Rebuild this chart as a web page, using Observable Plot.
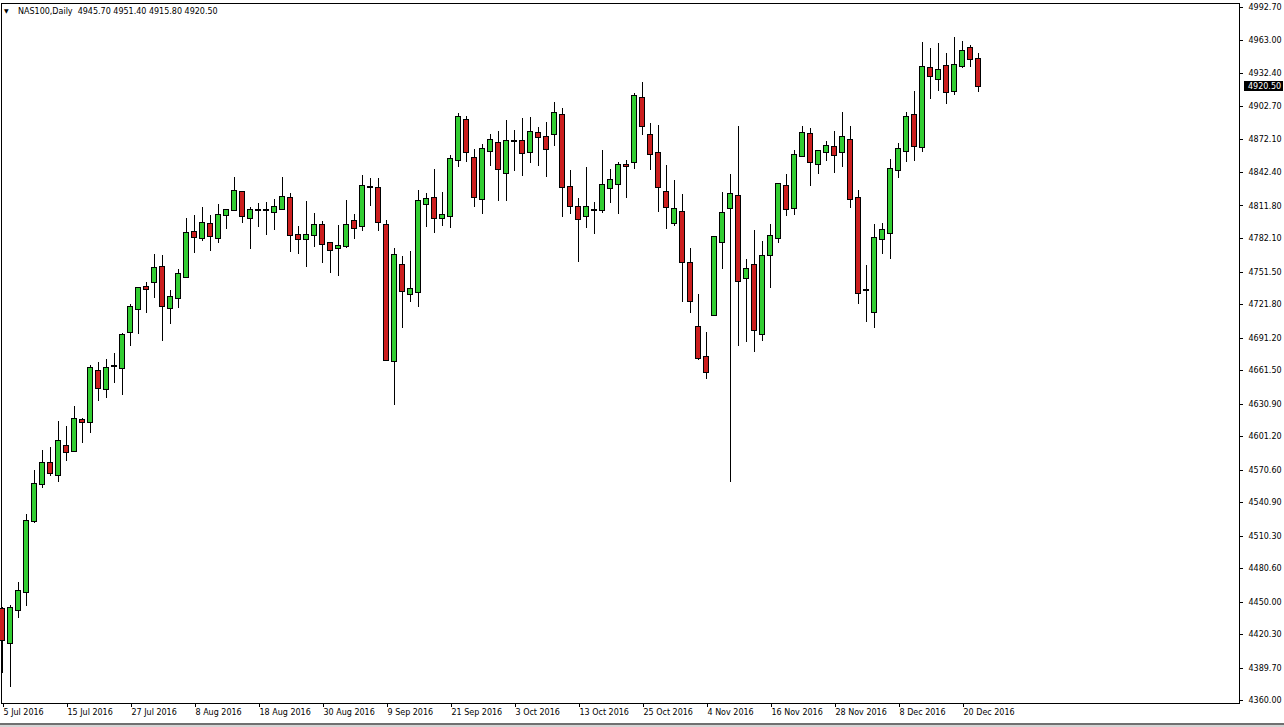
<!DOCTYPE html>
<html>
<head>
<meta charset="utf-8">
<script src="https://cdn.jsdelivr.net/npm/d3@7"></script>
<script src="https://cdn.jsdelivr.net/npm/@observablehq/plot@0.6"></script>
<style>
  html, body { margin: 0; padding: 0; background: #fff; }
  #wrap { position: relative; width: 1284px; height: 727px; overflow: hidden; }
  #hdr { position: absolute; left: 0; top: 0; font-family: "DejaVu Sans", sans-serif; font-size: 8px; color: #000; white-space: pre; }
  #hdr .tri { position: absolute; left: 4px; top: 7px; font-size: 6px; }
  #hdr .txt { position: absolute; left: 18px; top: 7px; }
  #foot { position: absolute; left: 0; top: 723px; width: 1284px; height: 2px; background: #707070; }
  #foot2 { position: absolute; left: 0; top: 725px; width: 1284px; height: 2px; background: #d4d4d4; }
</style>
</head>
<body>
<div id="wrap">
  <div id="chart"></div>
  <div id="hdr"><span class="tri">▼</span><span class="txt">NAS100,Daily  4945.70 4951.40 4915.80 4920.50</span></div>
  <div id="foot"></div><div id="foot2"></div>
</div>
<script>
// NAS100 daily candles, 5 Jul 2016 – 22 Dec 2016 (index = trading day)
const open = [
4443.2, 4412.7, 4442.5, 4458.7, 4524.1, 4557.3, 4576.5, 4565.5, 4592.0, 4588.0,
4615.7, 4613.9, 4660.7, 4644.0, 4665.0, 4663.2, 4696.6, 4717.0, 4737.4, 4741.7,
4755.6, 4717.9, 4727.1, 4746.2, 4787.6, 4781.8, 4794.6, 4782.4, 4802.8, 4807.9,
4823.8, 4800.1, 4807.4, 4807.9, 4805.6, 4808.3, 4818.4, 4784.6, 4781.5, 4784.6,
4793.7, 4777.3, 4772.7, 4775.1, 4797.4, 4792.8, 4829.0, 4827.5, 4794.0, 4670.1,
4757.5, 4730.7, 4733.1, 4812.9, 4818.4, 4800.1, 4802.5, 4853.0, 4889.8, 4854.9,
4817.4, 4861.3, 4868.6, 4841.2, 4870.7, 4870.4, 4860.3, 4877.7, 4874.0, 4876.8,
4894.4, 4828.9, 4810.1, 4802.2, 4808.1, 4807.7, 4827.5, 4831.1, 4848.3, 4851.5,
4909.6, 4876.1, 4859.4, 4823.8, 4795.5, 4805.6, 4759.0, 4700.6, 4673.2, 4711.5,
4778.2, 4809.2, 4820.5, 4745.3, 4757.5, 4694.2, 4766.3, 4781.8, 4829.6, 4809.2,
4857.2, 4876.8, 4849.4, 4860.9, 4864.9, 4860.3, 4871.6, 4818.4, 4734.5, 4714.3,
4780.9, 4786.4, 4844.2, 4861.3, 4894.1, 4864.9, 4937.0, 4927.0, 4939.1, 4916.6,
4939.1, 4955.3, 4945.7
];
const high = [
4445.6, 4447.1, 4468.4, 4529.9, 4570.3, 4588.6, 4591.6, 4615.1, 4610.5, 4628.8,
4617.5, 4666.2, 4669.2, 4671.4, 4676.9, 4695.7, 4721.6, 4737.7, 4742.2, 4767.2,
4766.3, 4734.6, 4753.8, 4800.1, 4803.1, 4810.1, 4803.1, 4813.1, 4808.6, 4837.5,
4824.4, 4810.7, 4813.8, 4815.2, 4817.4, 4837.5, 4822.9, 4793.1, 4815.9, 4805.2,
4797.6, 4777.5, 4794.0, 4816.8, 4804.0, 4839.6, 4836.6, 4836.6, 4798.5, 4772.7,
4765.7, 4770.2, 4825.9, 4822.9, 4845.1, 4823.8, 4857.6, 4895.9, 4893.5, 4863.1,
4867.9, 4877.0, 4879.8, 4889.8, 4880.7, 4891.4, 4892.3, 4883.7, 4887.7, 4906.0,
4900.5, 4844.2, 4818.4, 4846.6, 4815.2, 4862.4, 4845.1, 4851.2, 4853.3, 4914.2,
4924.5, 4886.8, 4885.3, 4848.7, 4835.1, 4822.0, 4772.7, 4731.0, 4696.0, 4783.5,
4823.8, 4840.5, 4884.3, 4762.7, 4789.4, 4779.6, 4794.9, 4831.8, 4840.5, 4862.4,
4884.3, 4882.2, 4862.4, 4870.7, 4879.8, 4897.4, 4884.3, 4825.9, 4757.5, 4794.9,
4795.5, 4854.0, 4868.6, 4897.4, 4916.3, 4960.8, 4955.3, 4959.8, 4950.7, 4965.9,
4961.9, 4958.3, 4951.4
];
const low = [
4384.8, 4372.5, 4435.0, 4446.5, 4522.2, 4553.6, 4565.1, 4559.7, 4578.8, 4586.5,
4594.7, 4604.4, 4633.6, 4635.8, 4650.0, 4638.8, 4683.8, 4694.5, 4713.9, 4727.6,
4688.4, 4703.3, 4717.9, 4745.5, 4768.7, 4779.6, 4770.5, 4777.8, 4790.1, 4807.0,
4795.5, 4771.8, 4792.4, 4784.9, 4789.4, 4807.7, 4769.6, 4767.2, 4755.9, 4774.2,
4759.0, 4749.9, 4747.7, 4772.7, 4780.9, 4788.5, 4811.6, 4788.8, 4669.8, 4629.7,
4699.7, 4724.0, 4719.4, 4792.4, 4786.4, 4793.3, 4791.5, 4846.6, 4851.8, 4810.7,
4804.3, 4848.1, 4816.2, 4816.2, 4843.5, 4839.0, 4850.8, 4848.1, 4838.1, 4866.4,
4801.0, 4803.7, 4759.9, 4791.0, 4785.5, 4804.7, 4814.3, 4803.7, 4818.4, 4845.1,
4876.1, 4844.2, 4806.1, 4790.1, 4793.3, 4723.4, 4713.4, 4670.7, 4653.1, 4711.0,
4753.8, 4559.4, 4683.8, 4686.9, 4677.8, 4688.4, 4736.2, 4777.8, 4802.5, 4803.1,
4856.3, 4829.9, 4840.3, 4852.4, 4841.7, 4847.2, 4809.2, 4721.6, 4705.7, 4699.7,
4767.5, 4762.7, 4836.6, 4851.8, 4852.4, 4860.3, 4908.7, 4916.3, 4904.2, 4912.6,
4937.0, 4937.9, 4915.8
];
const close = [
4415.2, 4444.1, 4459.9, 4523.5, 4557.3, 4576.5, 4567.3, 4596.5, 4586.5, 4616.6,
4613.9, 4663.2, 4645.5, 4663.7, 4665.5, 4693.6, 4719.4, 4736.7, 4735.3, 4754.5,
4720.3, 4728.3, 4749.2, 4786.7, 4782.8, 4795.5, 4783.7, 4802.8, 4807.7, 4825.3,
4801.9, 4807.4, 4807.6, 4807.6, 4810.1, 4819.3, 4784.6, 4781.5, 4784.6, 4793.7,
4776.4, 4770.9, 4774.8, 4793.7, 4791.0, 4829.6, 4828.8, 4796.4, 4670.7, 4766.6,
4734.0, 4735.3, 4815.9, 4817.7, 4800.1, 4803.1, 4854.0, 4892.3, 4860.3, 4819.3,
4863.1, 4871.3, 4844.8, 4870.4, 4871.1, 4859.4, 4878.6, 4874.0, 4863.6, 4895.9,
4828.4, 4811.6, 4799.2, 4810.1, 4807.8, 4830.2, 4835.1, 4848.5, 4848.0, 4911.7,
4884.3, 4858.5, 4828.4, 4810.1, 4808.6, 4759.9, 4724.9, 4672.3, 4659.5, 4782.8,
4804.7, 4822.0, 4743.1, 4753.5, 4698.1, 4765.7, 4783.9, 4831.1, 4808.3, 4857.6,
4877.7, 4851.2, 4861.3, 4865.8, 4857.6, 4874.0, 4817.4, 4732.2, 4734.8, 4781.8,
4789.1, 4844.8, 4863.1, 4892.3, 4865.8, 4937.9, 4929.7, 4935.7, 4915.1, 4940.0,
4952.5, 4945.2, 4920.5
];
const tickIdx = [0, 8, 16, 24, 32, 40, 48, 56, 64, 72, 80, 88, 96, 104, 112, 120];
const tickLabels = ["5 Jul 2016", "15 Jul 2016", "27 Jul 2016", "8 Aug 2016", "18 Aug 2016",
  "30 Aug 2016", "9 Sep 2016", "21 Sep 2016", "3 Oct 2016", "13 Oct 2016", "25 Oct 2016",
  "4 Nov 2016", "16 Nov 2016", "28 Nov 2016", "8 Dec 2016", "20 Dec 2016"];
const yTicks = [4992.70, 4963.00, 4932.40, 4902.70, 4872.10, 4842.40, 4811.80, 4782.10,
  4751.50, 4721.80, 4691.20, 4661.50, 4630.90, 4601.20, 4570.60, 4540.90, 4510.30,
  4480.60, 4450.00, 4420.30, 4389.70, 4360.00];
const lastPrice = 4920.50;

const GREEN = "#32CD32";
const RED = "#CC1E1E";
const idx = d3.range(open.length);

const chart = Plot.plot({
  width: 1284,
  height: 723,
  marginTop: 3,
  marginBottom: 20,
  marginLeft: 1,
  marginRight: 45,
  x: {type: "linear", domain: [-0.125, 154.625]},
  y: {domain: [4357.63, 4996.62]},
  style: {fontFamily: "DejaVu Sans, sans-serif", fontSize: "8px", color: "#000", background: "#fff", overflow: "visible"},
  marks: [
    Plot.frame({stroke: "#000", shapeRendering: "crispEdges"}),
    Plot.axisY(yTicks, {anchor: "right", tickSize: 3, tickPadding: 6,
      tickFormat: d => d.toFixed(2), shapeRendering: "crispEdges", fill: "#000", stroke: "#000"}),
    Plot.axisX(tickIdx, {anchor: "bottom", tickSize: 4, tickPadding: 2,
      tickFormat: d => tickLabels[tickIdx.indexOf(d)], textAnchor: "start", dx: 1,
      shapeRendering: "crispEdges", fill: "#000", stroke: "#000"}),
    Plot.ruleX(idx, {x: i => i, y1: i => low[i], y2: i => high[i], stroke: "#000", shapeRendering: "crispEdges"}),
    Plot.rect(idx, {
      x1: i => i - 0.3, x2: i => i + 0.3,
      y1: i => open[i], y2: i => close[i],
      fill: i => (close[i] >= open[i] ? GREEN : RED),
      stroke: "#000", insetTop: -0.5, insetBottom: -0.5,
      shapeRendering: "crispEdges"
    })
  ]
});
document.getElementById("chart").appendChild(chart);

// current price marker on the right axis
const svg = d3.select(chart);
const yPos = chart.scale("y").apply(lastPrice);
const g = svg.append("g");
g.append("rect").attr("x", 1244).attr("y", Math.round(yPos) - 5).attr("width", 39).attr("height", 10).attr("fill", "#000");
g.append("text").attr("x", 1248).attr("y", yPos).attr("dy", "0.32em")
  .attr("text-anchor", "start")
  .attr("fill", "#fff").attr("font-family", "DejaVu Sans, sans-serif").attr("font-size", 8)
  .text(lastPrice.toFixed(2));
</script>
</body>
</html>
